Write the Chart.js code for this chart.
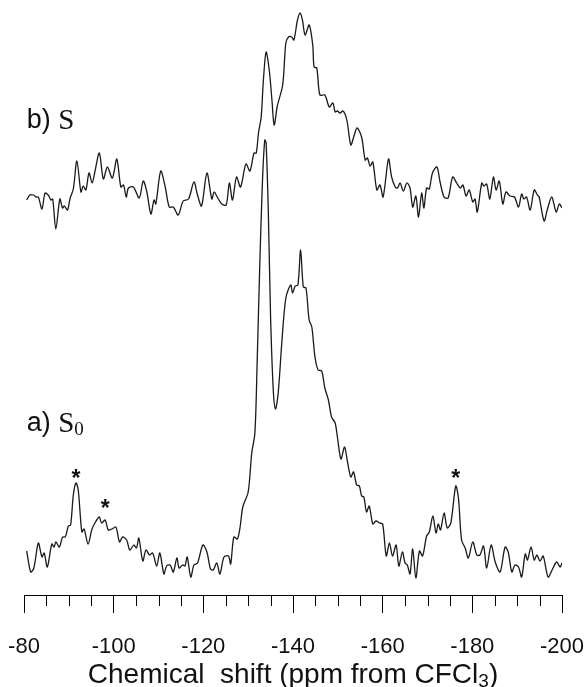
<!DOCTYPE html>
<html>
<head>
<meta charset="utf-8">
<script src="https://cdn.jsdelivr.net/npm/chart.js@4.4.1/dist/chart.umd.min.js"></script>
<style>
  html, body { margin: 0; padding: 0; background: #fff; }
  canvas { display: block; }
</style>
</head>
<body>
<canvas id="nmr" width="586" height="687"></canvas>
<script>
// b) S  - chemical shift (ppm) and intensity (a.u.)
const shiftB = [-80.6,-81.3,-82.1,-82.7,-83.2,-84.0,-84.7,-85.4,-86.0,-86.4,
  -87.1,-88.0,-88.6,-89.0,-89.7,-90.3,-91.0,-91.8,-92.7,-93.2,
  -93.8,-94.5,-95.2,-95.8,-96.8,-97.7,-98.6,-99.7,-100.7,-101.6,
  -102.2,-102.8,-103.3,-104.4,-105.7,-106.6,-107.4,-108.3,-109.0,-109.4,
  -110.5,-111.5,-112.4,-113.3,-114.4,-115.5,-116.7,-117.9,-118.7,-119.6,
  -120.8,-121.9,-122.4,-123.1,-124.1,-125.1,-125.8,-126.5,-127.4,-128.3,
  -129.5,-130.4,-131.3,-131.8,-132.3,-132.9,-133.4,-134.0,-134.7,-135.3,
  -135.8,-136.5,-137.7,-138.4,-139.0,-139.7,-140.2,-141.0,-141.6,-142.1,
  -142.7,-143.6,-144.4,-144.7,-145.3,-146.0,-147.1,-148.1,-148.9,-149.4,
  -149.9,-150.5,-151.1,-151.6,-152.1,-152.9,-153.6,-154.3,-155.3,-156.1,
  -156.6,-157.2,-157.8,-158.7,-159.4,-160.1,-161.3,-162.0,-162.8,-163.3,
  -163.9,-164.6,-165.4,-166.1,-166.7,-167.4,-168.0,-168.7,-169.2,-169.8,
  -170.4,-171.1,-172.1,-172.8,-173.7,-174.6,-175.6,-176.5,-177.3,-177.9,
  -178.6,-179.3,-180.1,-180.6,-181.1,-182.1,-182.6,-183.2,-183.9,-184.7,
  -185.3,-186.0,-186.8,-187.5,-188.4,-189.4,-190.3,-191.0,-191.5,-192.1,
  -192.9,-193.8,-194.5,-194.9,-196.0,-196.7,-197.7,-198.7,-199.4,-200.0];
const intB = [30,35,35,33,33,21,37,35,30,31,
  1,31,22,24,20,32,41,69,38,44,
  40,57,47,58,77,51,63,52,71,43,
  45,33,42,43,32,49,38,16,30,26,
  59,43,23,23,15,29,31,48,35,24,
  57,31,38,33,26,25,47,30,53,43,
  66,59,77,77,97,113,150,178,160,130,
  105,124,145,187,193,193,190,210,217,210,
  195,205,185,163,162,135,135,123,127,118,
  119,117,119,116,108,85,94,102,93,70,
  72,64,68,40,45,33,71,53,43,42,
  47,39,47,42,23,34,13,37,22,42,
  41,57,63,48,33,32,53,47,42,45,
  34,40,28,31,18,47,44,46,31,53,
  40,49,26,38,34,33,23,36,31,33,
  20,40,35,33,9,20,33,18,26,22];

// a) S0
const shiftA = [-80.6,-81.5,-82.2,-83.2,-84.0,-84.5,-85.2,-86.2,-86.7,-87.1,
  -87.9,-88.6,-89.2,-89.9,-90.4,-91.0,-91.6,-92.1,-92.9,-93.4,
  -94.3,-95.1,-95.8,-96.8,-97.3,-98.1,-98.8,-99.6,-100.5,-101.3,
  -102.0,-102.9,-103.6,-104.5,-105.1,-105.6,-106.5,-107.2,-108.0,-108.7,
  -109.6,-110.3,-111.2,-111.8,-112.6,-113.3,-114.1,-114.6,-115.4,-115.9,
  -116.4,-117.2,-117.9,-118.7,-119.9,-120.8,-121.6,-122.2,-123.0,-123.7,
  -124.6,-125.6,-126.1,-126.8,-127.6,-128.2,-128.8,-130.0,-130.8,-131.5,
  -132.0,-132.6,-133.2,-133.7,-134.0,-134.5,-135.0,-135.6,-136.1,-136.7,
  -137.5,-138.4,-139.5,-139.9,-140.5,-141.1,-141.7,-142.3,-142.9,-143.6,
  -144.2,-144.9,-145.6,-146.4,-147.1,-147.9,-148.6,-149.4,-149.9,-150.7,
  -151.5,-152.2,-152.9,-153.5,-154.2,-154.8,-155.3,-155.8,-156.4,-157.0,
  -157.8,-158.5,-159.3,-160.0,-160.8,-161.5,-162.2,-163.0,-163.6,-164.4,
  -165.0,-165.5,-166.1,-166.7,-167.4,-168.2,-168.9,-169.8,-170.4,-171.2,
  -171.9,-172.4,-172.9,-173.7,-174.4,-175.2,-176.3,-176.9,-177.6,-178.4,
  -179.1,-180.1,-181.0,-181.7,-182.5,-183.2,-184.2,-185.1,-186.2,-187.3,
  -188.0,-188.8,-189.5,-190.3,-191.0,-191.8,-192.3,-193.1,-193.8,-194.4,
  -195.1,-195.8,-196.9,-197.9,-198.8,-199.6,-200.0];
const intA = [29,8,12,37,23,27,13,36,33,38,
  33,43,43,54,55,85,97,90,48,51,
  36,50,57,63,57,60,50,51,53,38,
  43,40,30,35,32,42,19,30,25,27,
  14,27,6,14,15,8,22,12,15,14,
  23,3,15,17,35,28,11,10,17,6,
  23,24,16,43,41,53,73,88,127,147,
  217,317,400,440,437,367,263,190,171,187,
  237,282,295,287,294,295,330,293,292,260,
  253,223,210,209,192,180,163,157,143,121,
  133,117,103,108,95,94,84,83,68,74,
  56,59,57,56,24,37,24,35,14,28,
  17,15,6,31,2,29,24,44,48,64,
  47,56,50,67,52,57,94,82,40,32,
  22,38,25,25,34,12,35,18,8,33,
  28,8,15,13,3,26,20,33,20,25,
  19,24,3,11,18,13,17];

// spinning sidebands (*) on trace a
const sidebandShift = [-91.6, -98.1, -176.3];
const sidebandInt = [107, 77, 107];

const OFFSET_B = 350;   // vertical stacking of trace b
const MAJOR_STEP = 20;
const MINOR_STEP = 5;

const SANS = '"Liberation Sans", Arial, sans-serif';
const SERIF = '"Liberation Serif", "Times New Roman", serif';

const toPoints = (xs, ys, off) => xs.map((v, i) => ({ x: v, y: ys[i] + off }));

// minor ticks, trace labels, asterisks and axis title
const decor = {
    id: 'decor',
    afterDraw(chart) {
        const { ctx, chartArea } = chart;
        const x = chart.scales.x, y = chart.scales.y;
        ctx.save();

        // minor ticks
        ctx.strokeStyle = '#000';
        ctx.lineWidth = 1;
        for (let v = x.min; v <= x.max; v += MINOR_STEP) {
            if (v % MAJOR_STEP === 0) continue;
            const px = Math.round(x.getPixelForValue(v)) + 0.5;
            ctx.beginPath();
            ctx.moveTo(px, chartArea.bottom);
            ctx.lineTo(px, chartArea.bottom + 11);
            ctx.stroke();
        }

        ctx.fillStyle = '#111';

        // asterisks
        ctx.font = 'bold 23px ' + SANS;
        ctx.textAlign = 'center';
        ctx.textBaseline = 'alphabetic';
        sidebandShift.forEach((s, i) => {
            ctx.fillText('*', x.getPixelForValue(s), y.getPixelForValue(sidebandInt[i]) + 13);
        });

        // trace labels
        ctx.textAlign = 'left';
        ctx.textBaseline = 'middle';
        const label = (pre, sym, sub, ppm, val) => {
            let px = x.getPixelForValue(ppm);
            const py = y.getPixelForValue(val);
            ctx.font = '27px ' + SANS;
            ctx.fillText(pre, px, py);
            px += ctx.measureText(pre).width;
            ctx.font = '29px ' + SERIF;
            ctx.fillText(sym, px, py);
            px += ctx.measureText(sym).width;
            if (sub) {
                ctx.font = '19px ' + SERIF;
                ctx.fillText(sub, px, py + 6);
            }
        };
        label('b) ', 'S', '', -80.6, 109 + OFFSET_B);
        label('a) ', 'S', '0', -80.6, 156);

        // axis title with subscript
        const parts = [
            ['Chemical  shift (ppm from CFCl', '28px ' + SANS, 0],
            ['3', '19px ' + SANS, 7],
            [')', '28px ' + SANS, 0]
        ];
        let w = 0;
        parts.forEach(p => { ctx.font = p[1]; w += ctx.measureText(p[0]).width; });
        let tx = (chartArea.left + chartArea.right) / 2 - w / 2;
        const ty = 675;
        parts.forEach(p => {
            ctx.font = p[1];
            ctx.fillText(p[0], tx, ty + p[2]);
            tx += ctx.measureText(p[0]).width;
        });

        ctx.restore();
    }
};

new Chart(document.getElementById('nmr'), {
    type: 'line',
    data: {
        datasets: [{
            label: 'b) S',
            data: toPoints(shiftB, intB, OFFSET_B),
            borderColor: '#1a1a1a',
            borderWidth: 1.3,
            pointRadius: 0,
            tension: 0.3,
            fill: false
        }, {
            label: 'a) S0',
            data: toPoints(shiftA, intA, 0),
            borderColor: '#1a1a1a',
            borderWidth: 1.3,
            pointRadius: 0,
            tension: 0.3,
            fill: false
        }]
    },
    options: {
        responsive: false,
        animation: false,
        layout: { padding: { left: 24, right: 24, top: 0, bottom: 0 } },
        plugins: {
            legend: { display: false },
            tooltip: { enabled: false }
        },
        scales: {
            x: {
                type: 'linear',
                reverse: true,
                min: -200,
                max: -80,
                afterFit: (s) => {
                    s.height = 92;
                    s.paddingLeft = 0;
                    s.paddingRight = 0;
                },
                border: { display: true, color: '#000', width: 1 },
                grid: {
                    drawOnChartArea: false,
                    drawTicks: true,
                    tickLength: 18,
                    tickColor: '#000',
                    tickWidth: 1
                },
                ticks: {
                    stepSize: MAJOR_STEP,
                    color: '#111',
                    padding: 21,
                    maxRotation: 0,
                    autoSkip: false,
                    font: { family: SANS, size: 22 }
                }
            },
            y: {
                display: false,
                min: -15,
                max: 580
            }
        }
    },
    plugins: [decor]
});
</script>
</body>
</html>
